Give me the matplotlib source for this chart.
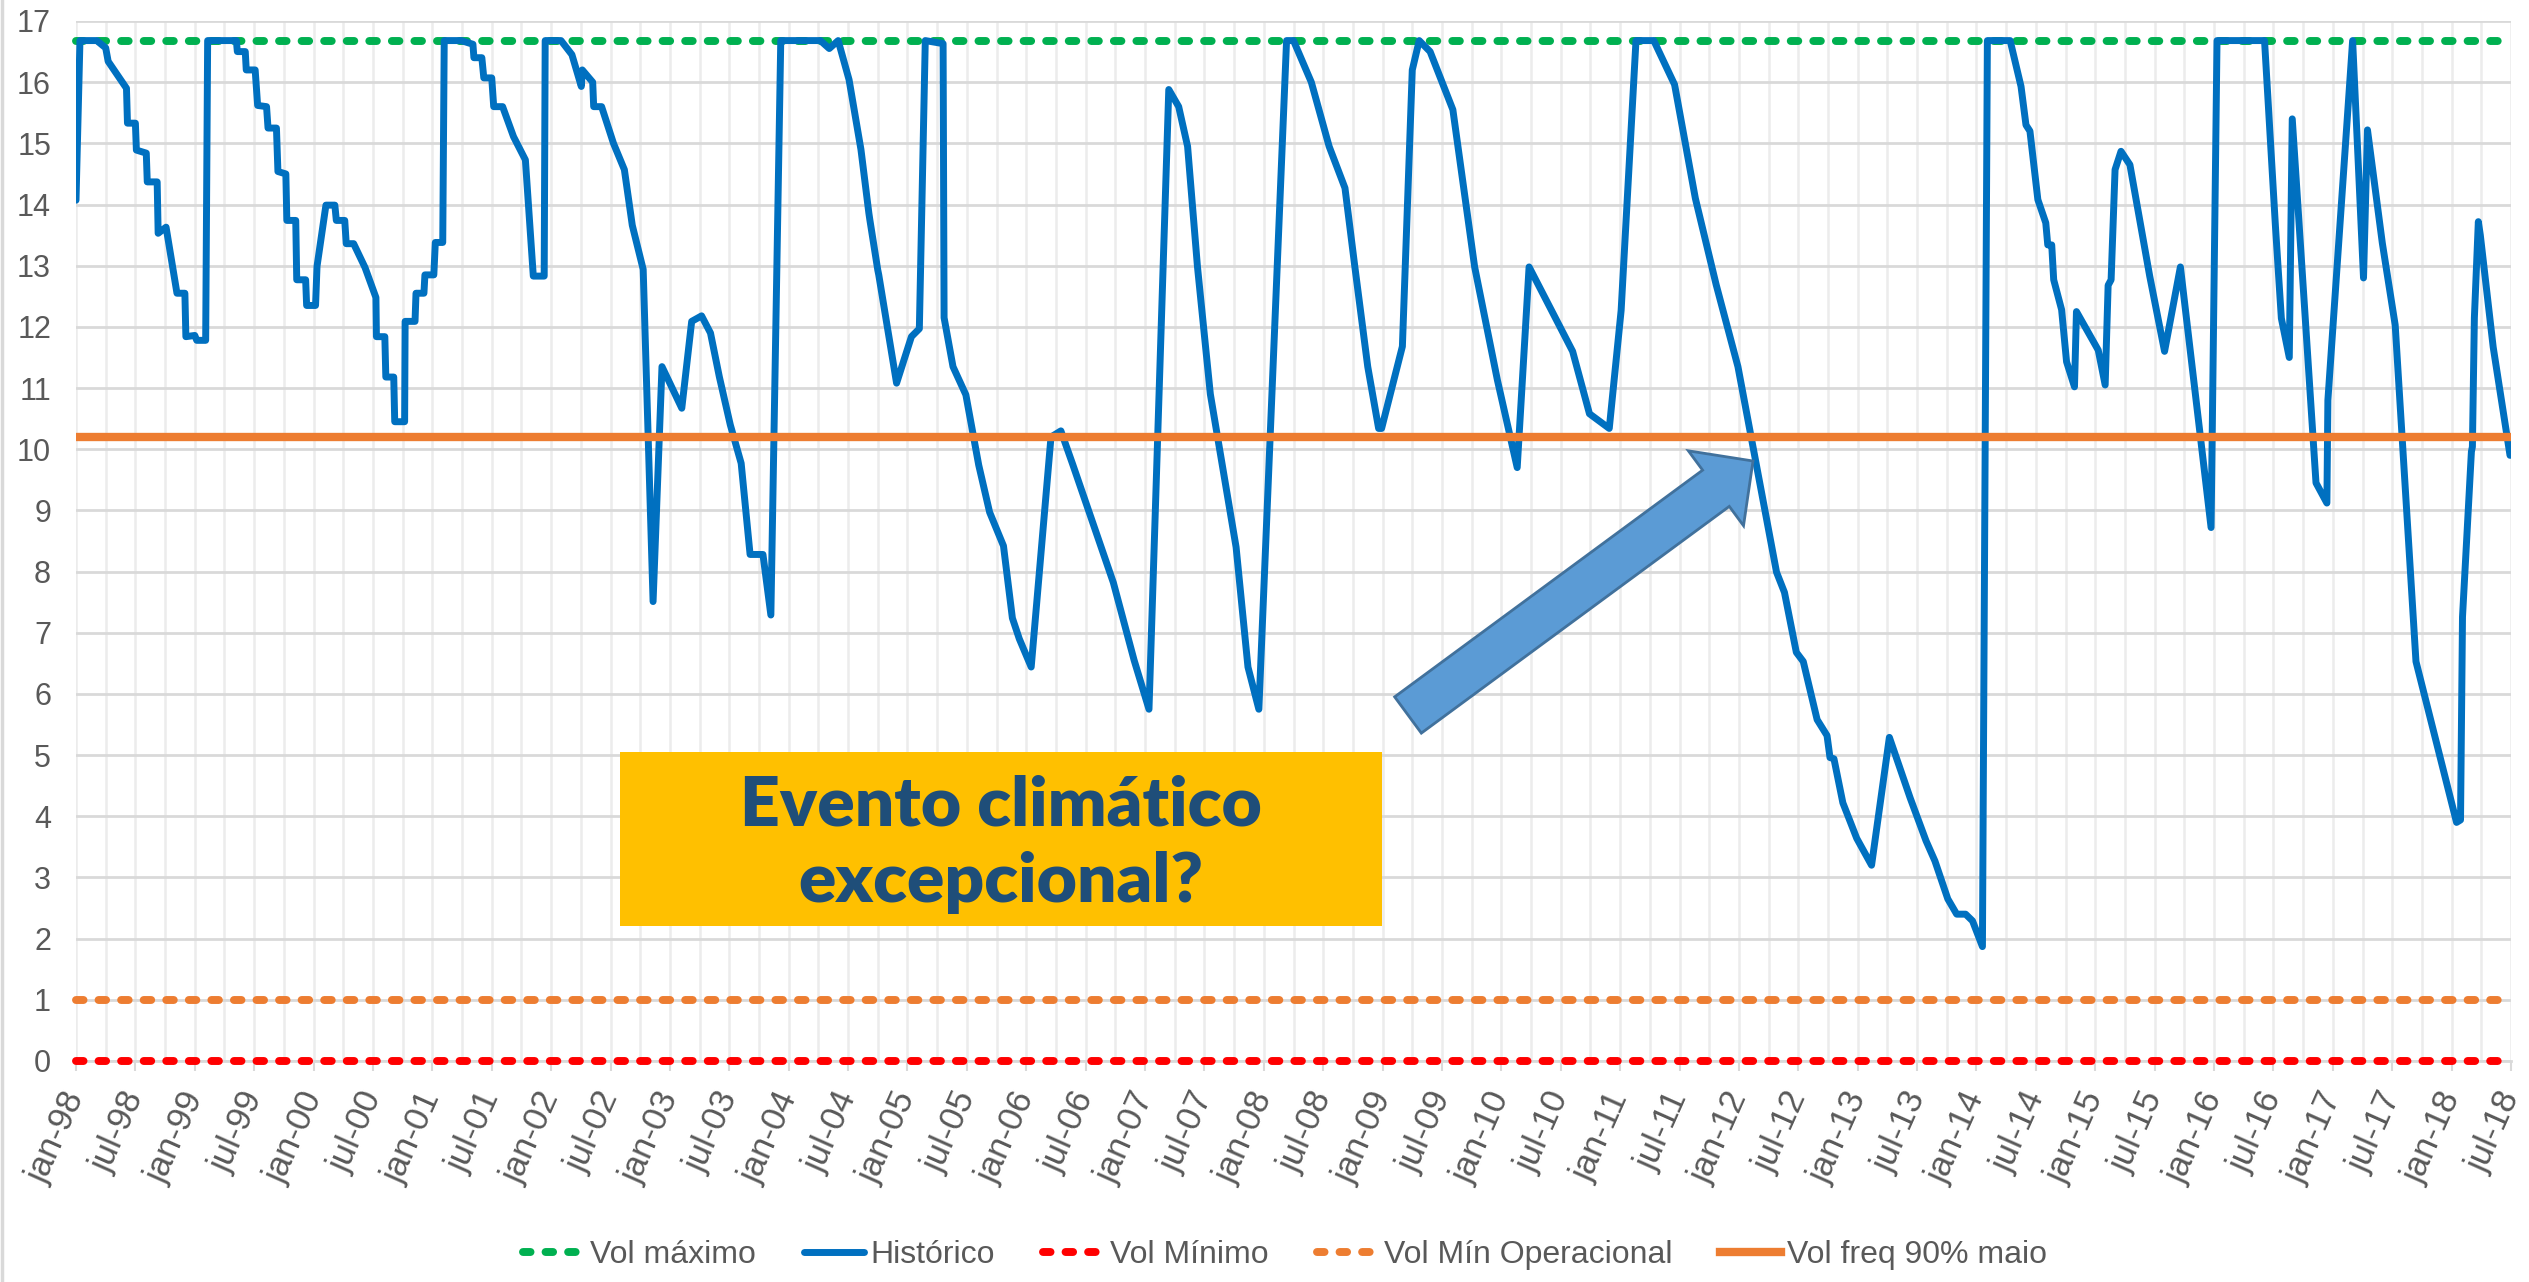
import matplotlib
matplotlib.use("Agg")
import matplotlib.pyplot as plt
from matplotlib import font_manager
from matplotlib.font_manager import FontProperties
from matplotlib.patches import Rectangle, FancyArrow


def pick_font(names):
    # first installed family from the list
    for name in names:
        try:
            font_manager.findfont(FontProperties(family=name), fallback_to_default=False)
            return name
        except ValueError:
            pass
    return "DejaVu Sans"


base_font = pick_font(["Liberation Sans Narrow", "Liberation Sans"])
box_font = pick_font(["Lato", "Open Sans", "DejaVu Sans"])
plt.rcParams["font.family"] = [base_font, "DejaVu Sans"]

# ---- data (x = months since jan-98) ----
vol_max = 16.68
vol_min = 0.0
vol_min_op = 1.0
vol_freq90 = 10.2

hist_month = [
    0, 0.4, 2.1, 3.0, 3.25, 5.1, 5.2, 6.0, 6.1, 7.1, 7.2, 8.2, 8.3, 9.1, 10.2, 11.0,
    11.1, 12.0, 12.2, 13.1, 13.3, 16.2, 16.3, 17.1, 17.2, 18.1, 18.35, 19.25, 19.4,
    20.25, 20.4, 21.2, 21.3, 22.2, 22.3, 23.2, 23.3, 24.2, 24.35, 25.25, 26.15, 26.3,
    27.15, 27.3, 28.05, 29.2, 30.3, 30.35, 31.2, 31.3, 32.1, 32.2, 33.2, 33.25, 34.25,
    34.35, 35.15, 35.25, 36.15, 36.3, 37.05, 37.2, 38.9, 40.1, 40.2, 41.0, 41.2, 42.0,
    42.2, 43.1, 44.2, 45.4, 46.2, 47.3, 47.4, 49.0, 50.1, 51.05, 51.15, 52.2, 52.3,
    53.1, 54.3, 55.4, 56.2, 57.3, 58.3, 59.2, 61.2, 62.2, 63.2, 64.1, 65.0, 66.1,
    67.2, 68.1, 69.4, 70.2, 71.2, 75.2, 76.1, 77.0, 78.1, 79.3, 80.1, 80.2, 81.0,
    81.1, 82.9, 84.4, 85.2, 85.8, 87.6, 87.7, 88.6, 89.9, 91.2, 92.3, 93.7, 94.6,
    95.3, 96.5, 98.5, 99.5, 100.7, 104.8, 106.9, 108.4, 110.4, 111.4, 112.3, 113.3,
    114.6, 117.2, 118.4, 119.5, 122.3, 123.0, 124.8, 126.6, 128.2, 129.2, 130.5,
    131.6, 131.9, 134.0, 135.0, 135.7, 136.8, 139.1, 141.3, 143.6, 145.6, 146.8,
    151.2, 152.9, 154.9, 156.1, 157.6, 159.4, 161.5, 163.6, 165.7, 167.9, 171.8,
    172.6, 173.8, 174.5, 175.9, 176.9, 177.2, 177.6, 178.5, 179.9, 181.4, 183.2,
    185.3, 186.9, 187.8, 189.1, 190.0, 190.9, 191.6, 192.6, 193.1, 195.4, 196.5,
    197.0, 197.4, 198.2, 199.0, 199.2, 199.6, 199.8, 200.6, 201.1, 201.9, 202.1,
    204.3, 205.0, 205.3, 205.6, 206.0, 206.6, 207.5, 209.5, 211.0, 212.6, 215.7,
    216.3, 221.1, 222.2, 222.8, 223.6, 223.9, 226.3, 227.4, 227.5, 230.0, 231.1,
    231.5, 233.0, 234.3, 236.4, 240.5, 240.9, 241.1, 242.0, 242.1, 242.3, 242.7,
    242.9, 244.2, 245.9,
]
hist_vol = [
    14.07, 16.68, 16.68, 16.56, 16.34, 15.9, 15.33, 15.33, 14.89, 14.84, 14.37, 14.37,
    13.53, 13.63, 12.55, 12.55, 11.84, 11.86, 11.78, 11.78, 16.68, 16.68, 16.5, 16.5,
    16.2, 16.2, 15.62, 15.6, 15.25, 15.25, 14.54, 14.5, 13.74, 13.74, 12.77, 12.77,
    12.35, 12.35, 12.99, 13.99, 13.99, 13.74, 13.74, 13.36, 13.36, 12.97, 12.48, 11.84,
    11.84, 11.18, 11.18, 10.45, 10.45, 12.09, 12.09, 12.55, 12.55, 12.85, 12.85, 13.38,
    13.38, 16.68, 16.68, 16.62, 16.4, 16.4, 16.07, 16.07, 15.6, 15.6, 15.11, 14.73,
    12.83, 12.83, 16.68, 16.68, 16.45, 15.93, 16.2, 16.0, 15.6, 15.6, 15.0, 14.57,
    13.66, 12.94, 7.51, 11.35, 10.67, 12.09, 12.18, 11.9, 11.18, 10.4, 9.77, 8.28,
    8.28, 7.29, 16.68, 16.68, 16.55, 16.68, 16.04, 14.9, 13.86, 13.75, 12.93, 12.85,
    11.08, 11.84, 11.97, 16.68, 16.63, 12.15, 11.35, 10.89, 9.74, 8.97, 8.42, 7.24,
    6.9, 6.44, 10.2, 10.3, 9.75, 7.82, 6.55, 5.75, 15.88, 15.6, 14.95, 12.98, 10.9,
    8.4, 6.44, 5.75, 16.68, 16.68, 16.0, 14.95, 14.27, 12.98, 11.35, 10.34, 10.34,
    11.68, 16.2, 16.68, 16.5, 15.55, 12.98, 11.13, 9.7, 12.98, 11.6, 10.58, 10.34,
    12.27, 16.68, 16.68, 15.96, 14.1, 12.69, 11.35, 7.99, 7.66, 6.68, 6.53, 5.58,
    5.32, 4.96, 4.94, 4.22, 3.64, 3.2, 5.29, 4.3, 3.6, 3.27, 2.65, 2.4, 2.4, 2.29,
    1.87, 16.68, 16.68, 15.93, 15.3, 15.2, 14.08, 13.7, 13.34, 13.34, 12.77, 12.28,
    11.43, 11.02, 12.25, 11.62, 11.05, 12.68, 12.77, 14.57, 14.87, 14.65, 12.83, 11.6,
    12.98, 8.72, 16.68, 16.68, 13.65, 12.14, 11.5, 15.4, 9.45, 9.12, 10.8, 16.68, 12.8,
    15.22, 13.37, 12.03, 6.53, 3.9, 3.94, 7.26, 9.96, 10.04, 12.15, 13.72, 13.5, 11.67,
    9.9,
]

tick_labels = [
    "jan-98", "jul-98", "jan-99", "jul-99", "jan-00", "jul-00", "jan-01", "jul-01",
    "jan-02", "jul-02", "jan-03", "jul-03", "jan-04", "jul-04", "jan-05", "jul-05",
    "jan-06", "jul-06", "jan-07", "jul-07", "jan-08", "jul-08", "jan-09", "jul-09",
    "jan-10", "jul-10", "jan-11", "jul-11", "jan-12", "jul-12", "jan-13", "jul-13",
    "jan-14", "jul-14", "jan-15", "jul-15", "jan-16", "jul-16", "jan-17", "jul-17",
    "jan-18", "jul-18",
]
x_end = 6 * (len(tick_labels) - 1)

# ---- figure ----
W, H = 2529, 1282
fig = plt.figure(figsize=(W / 100, H / 100), dpi=100)
ax = fig.add_axes([76 / W, 1 - 1061 / H, (2511 - 76) / W, (1061 - 21) / H])

dot_style = dict(lw=5.7, dashes=(0.95, 1.9), dash_capstyle="round", clip_on=False)
ax.plot([0, x_end], [vol_max, vol_max], color="#00B050", label="Vol máximo", zorder=3, **dot_style)
ax.plot(hist_month, hist_vol, color="#0070C0", lw=5.0, solid_joinstyle="round",
        solid_capstyle="round", label="Histórico", zorder=4)
ax.plot([0, x_end], [vol_min, vol_min], color="#FF0000", label="Vol Mínimo", zorder=5, **dot_style)
ax.plot([0, x_end], [vol_min_op, vol_min_op], color="#ED7D31", label="Vol Mín Operacional",
        zorder=6, **dot_style)
ax.plot([0, x_end], [vol_freq90, vol_freq90], color="#ED7D31", lw=6.0,
        label="Vol freq 90% maio", zorder=7)

ax.set_xlim(0, x_end)
ax.set_ylim(0, 17)
ax.set_xticks(range(0, x_end + 1, 6))
ax.set_xticklabels(tick_labels, rotation=66, ha="right", va="center", rotation_mode="anchor")
ax.set_xticks(range(0, x_end + 1, 3), minor=True)
ax.set_yticks(range(0, 18))

ax.set_axisbelow(True)
ax.grid(axis="x", which="both", color="#ececec", lw=1.8)
ax.grid(axis="y", which="major", color="#d9d9d9", lw=2.0)
ax.tick_params(axis="x", which="major", length=7, width=1.5, color="#d9d9d9", pad=16,
               labelsize=25, labelcolor="#595959")
ax.tick_params(axis="x", which="minor", length=0)
ax.tick_params(axis="y", length=0, pad=18, labelsize=22, labelcolor="#595959")
for side in ["top", "right", "left"]:
    ax.spines[side].set_visible(False)
ax.spines["bottom"].set_color("#d9d9d9")
ax.spines["bottom"].set_linewidth(2)

handles, labels = ax.get_legend_handles_labels()
fig.legend(handles, labels, loc="center", bbox_to_anchor=(1285 / W, 1 - 1255 / H), ncol=5,
           frameon=False, fontsize=23, handlelength=1.9, handletextpad=0.2,
           columnspacing=1.5, labelcolor="#595959")

# ---- annotation layer in pixel coordinates ----
ov = fig.add_axes([0, 0, 1, 1], zorder=10)
ov.set_xlim(0, W)
ov.set_ylim(H, 0)
ov.axis("off")
ov.plot([2, 2], [0, H], color="#d9d9d9", lw=2.5)

ov.add_patch(Rectangle((620, 752), 762, 174, facecolor="#FFC000", edgecolor="none"))
ov.text(1001, 825, "Evento climático", ha="center", va="baseline", fontsize=50,
        fontweight="heavy", color="#1F4E79", family=box_font)
ov.text(1001, 902, "excepcional?", ha="center", va="baseline", fontsize=50,
        fontweight="heavy", color="#1F4E79", family=box_font)

ov.add_patch(FancyArrow(1408, 715, 345, -254, width=45, head_width=93, head_length=46,
                        length_includes_head=True, facecolor="#5B9BD5",
                        edgecolor="#41719C", lw=2))

fig.savefig("out.png", dpi=100)
